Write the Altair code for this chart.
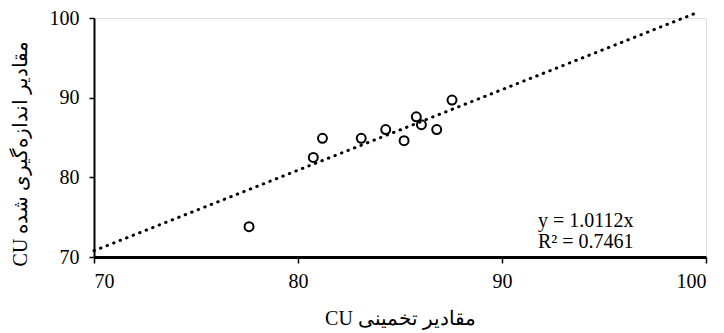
import altair as alt
import pandas as pd

# Estimated CU (x) vs measured CU (y)
est_cu = [77.6, 80.75, 81.2, 83.1, 84.3, 85.2, 85.8, 86.05, 86.8, 87.55]
meas_cu = [73.8, 82.5, 84.9, 84.9, 86.0, 84.6, 87.6, 86.6, 86.0, 89.7]

x_ticks = [70, 80, 90, 100]
y_ticks = [70, 80, 90, 100]

trend_slope = 1.0112
trend_x = [70, 99.5]
equation_lines = ["y = 1.0112x", "R² = 0.7461"]

x_title = "CU \u200eتخمینی\u200e \u200eمقادیر"
y_title = "CU \u200eشده\u200e \u200eاندازه\u200cگیری\u200e \u200eمقادیر"

FONT = "Liberation Serif"

pts = pd.DataFrame({"x": est_cu, "y": meas_cu})
trend = pd.DataFrame({"x": trend_x})

x_scale = alt.Scale(domain=[70, 100], nice=False, zero=False)
y_scale = alt.Scale(domain=[70, 100], nice=False, zero=False)

x_axis = alt.Axis(
    values=x_ticks, title=x_title, grid=False,
    domainColor="black", domainWidth=3, tickColor="black", tickWidth=1.5,
    tickSize=6, labelPadding=8, labelFontSize=20, labelFont=FONT,
    labelColor="black", titleFont=FONT, titleFontSize=20,
    titleFontWeight="normal", titleColor="black",
    titleX=306, titleY=61, titleBaseline="middle", titleAnchor="middle",
)
y_axis = alt.Axis(
    values=y_ticks, title=y_title, grid=False,
    domainColor="black", domainWidth=2, tickColor="black", tickWidth=1.5,
    tickSize=5, labelPadding=10, labelFontSize=20, labelFont=FONT,
    labelColor="black", titleFont=FONT, titleFontSize=20,
    titleFontWeight="normal", titleColor="black",
    titleX=-74, titleY=135, titleBaseline="middle", titleAngle=270,
)

points = alt.Chart(pts).mark_point(
    shape="circle", filled=False, size=80, stroke="black",
    strokeWidth=2, opacity=1,
).encode(
    x=alt.X("x:Q", scale=x_scale, axis=x_axis),
    y=alt.Y("y:Q", scale=y_scale, axis=y_axis),
)

line = alt.Chart(trend).transform_calculate(
    y=f"{trend_slope} * datum.x"
).mark_line(
    color="black", strokeWidth=3, strokeDash=[0.5, 6.5], strokeCap="round",
    clip=False,
).encode(
    x=alt.X("x:Q", scale=x_scale, axis=x_axis),
    y=alt.Y("y:Q", scale=y_scale, axis=y_axis),
)

label = alt.Chart(pd.DataFrame({"t": [0]})).mark_text(
    align="left", baseline="middle", font=FONT, fontSize=20,
    lineHeight=21, color="black",
).encode(
    x=alt.value(444), y=alt.value(203), text=alt.value(equation_lines),
)

chart = alt.layer(line, points, label).properties(
    width=612, height=239,
    autosize=alt.AutoSizeParams(type="none"),
    padding={"left": 86, "top": 10, "right": 10, "bottom": 76},
).configure_view(stroke=None).configure(background="white")

chart.save("out.html", embed_options={"renderer": "svg", "actions": False})
